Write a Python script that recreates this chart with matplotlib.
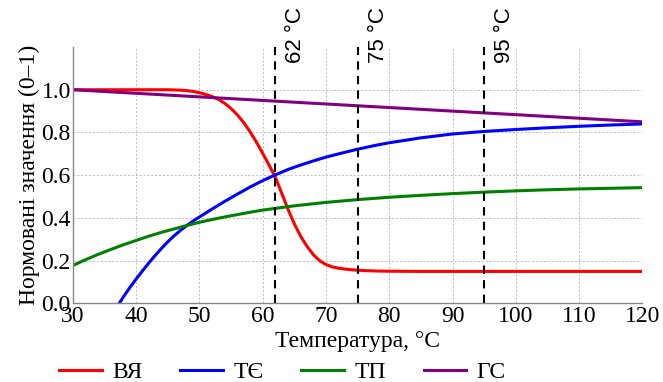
import matplotlib
matplotlib.use("Agg")
import matplotlib.pyplot as plt
from matplotlib.transforms import offset_copy

# ---- data ----
temp_vya = [30, 35, 40, 45, 46, 47, 48, 49, 50, 51, 52, 53, 54, 55, 56, 57, 58, 59,
            60, 61, 62, 63, 64, 65, 66, 67, 68, 69, 70, 71, 72, 73, 74, 75, 76, 78,
            80, 85, 90, 100, 110, 120]
vya = [1.0, 1.0, 1.0, 1.0, 0.999, 0.998, 0.996, 0.992, 0.986, 0.978, 0.968, 0.955,
       0.936, 0.912, 0.882, 0.846, 0.803, 0.755, 0.702, 0.647, 0.59, 0.515, 0.44, 0.372,
       0.314, 0.267, 0.228, 0.2, 0.182, 0.171, 0.165, 0.161, 0.158, 0.156, 0.154,
       0.152, 0.151, 0.15, 0.15, 0.15, 0.15, 0.15]

temp_te = [37.3, 38, 39, 40, 41, 42, 43, 44, 45, 46, 47, 48, 49, 50, 52, 54, 56, 58,
           60, 62, 64, 66, 68, 70, 72, 75, 78, 80, 85, 90, 95, 100, 105, 110, 115, 120]
te = [0.0, 0.032, 0.075, 0.115, 0.153, 0.19, 0.225, 0.258, 0.289, 0.317, 0.342,
      0.365, 0.386, 0.405, 0.442, 0.478, 0.512, 0.545, 0.575, 0.602, 0.627, 0.648,
      0.667, 0.685, 0.70, 0.722, 0.741, 0.752, 0.775, 0.793, 0.805, 0.814, 0.822,
      0.829, 0.835, 0.840]

temp_tp = [30, 32, 34, 36, 38, 40, 42, 44, 46, 48, 50, 52, 54, 56, 58, 60, 62, 65,
           70, 75, 80, 85, 90, 95, 100, 105, 110, 115, 120]
tp = [0.178, 0.205, 0.23, 0.253, 0.275, 0.295, 0.315, 0.333, 0.349, 0.365, 0.38,
      0.393, 0.405, 0.416, 0.427, 0.437, 0.445, 0.457, 0.473, 0.486, 0.497, 0.506,
      0.514, 0.521, 0.527, 0.532, 0.536, 0.539, 0.542]

temp_gs = [30, 60, 90, 120]
gs = [1.0, 0.95, 0.90, 0.85]

series_labels = ["ВЯ", "ТЄ", "ТП", "ГС"]
marker_temps = [62, 75, 95]
x_ticks = [30, 40, 50, 60, 70, 80, 90, 100, 110, 120]
y_ticks = [0.0, 0.2, 0.4, 0.6, 0.8, 1.0]

# ---- figure ----
plt.rcParams['font.family'] = ['Liberation Serif', 'DejaVu Serif']
fig = plt.figure(figsize=(6.63, 3.82), dpi=100)
ax = fig.add_axes([0.110, 0.2055, 0.859, 0.6715])

lw = 2.2
ax.plot(temp_vya, vya, color='red', lw=lw, label=series_labels[0])
ax.plot(temp_te, te, color='blue', lw=lw, label=series_labels[1])
ax.plot(temp_tp, tp, color='green', lw=lw, label=series_labels[2])
ax.plot(temp_gs, gs, color='purple', lw=lw, label=series_labels[3])

for t in marker_temps:
    ax.axvline(t, color='black', ls='--', lw=1.5, dashes=(4, 3))
    trans = offset_copy(ax.get_xaxis_transform(), fig=fig, x=10, y=0, units='dots')
    ax.text(t, 0.938, f"{t} °C", transform=trans, rotation=90, ha='left',
            va='bottom', fontsize=16, family=['Liberation Sans', 'DejaVu Sans'],
            clip_on=False)

ax.set_xlim(30, 120)
ax.set_ylim(0, 1.2)
ax.set_xticks(x_ticks)
ax.set_yticks(y_ticks)
ax.set_yticklabels([f"{v:.1f}" for v in y_ticks])
ax.tick_params(axis='both', length=0, labelsize=17, pad=1.5)

ax.grid(True, color='#bbbbbb', ls='--', lw=0.7, dashes=(2, 2))
ax.set_axisbelow(True)
for s in ['top', 'right']:
    ax.spines[s].set_visible(False)
for s in ['left', 'bottom']:
    ax.spines[s].set_color('#888888')
    ax.spines[s].set_linewidth(1.0)

ax.set_xlabel("Температура, °C", fontsize=17, labelpad=3)
ax.set_ylabel("Нормовані значення (0–1)", fontsize=17, labelpad=1)

fig.legend(loc='center', bbox_to_anchor=(0.426, 0.026), ncol=4, frameon=False,
           fontsize=17, handlelength=1.8, handletextpad=0.45, columnspacing=1.6)

fig.savefig("out.png", dpi=100)
